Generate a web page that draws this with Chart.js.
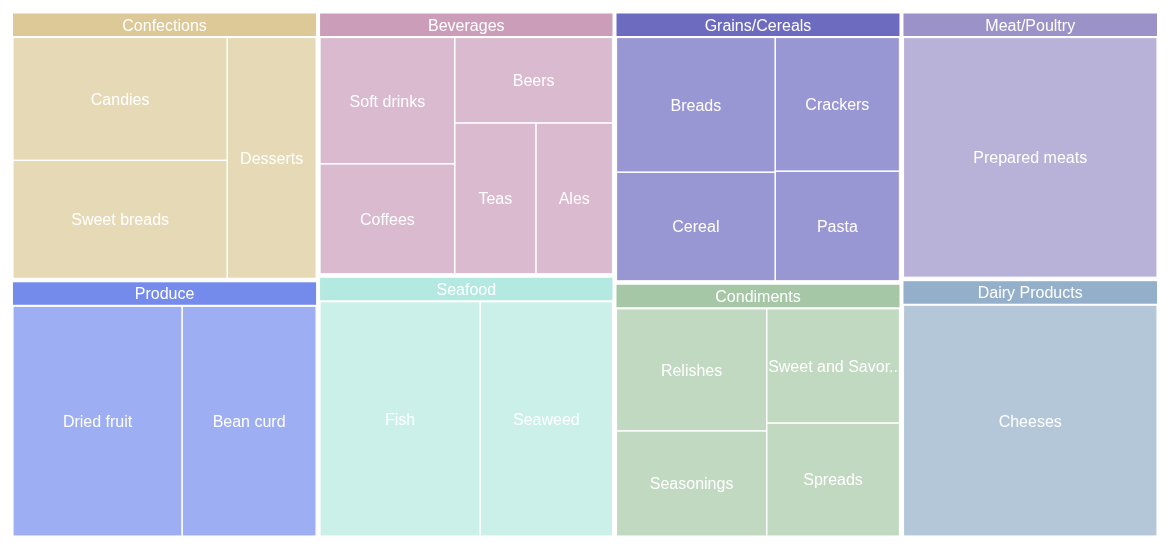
<!DOCTYPE html>
<html>
<head>
<meta charset="utf-8">
<script src="https://cdn.jsdelivr.net/npm/chart.js@4.4.1/dist/chart.umd.min.js"></script>
<style>
html,body{margin:0;padding:0;background:#ffffff;}
#wrap{width:1170px;height:550px;position:relative;}
</style>
</head>
<body>
<div id="wrap"><canvas id="chart"></canvas></div>
<script>
// ---- data ----
const categories = ['Confections','Produce','Beverages','Seafood','Grains/Cereals','Condiments','Meat/Poultry','Dairy Products'];
const headerColors = ['#dcc997','#758bec','#cb9db9','#b3e9e0','#6d6bc0','#a6c7a6','#9b92c7','#94afc9'];
const subcategories = [
  ['Candies','Sweet breads','Desserts'],
  ['Dried fruit','Bean curd'],
  ['Soft drinks','Coffees','Beers','Teas','Ales'],
  ['Fish','Seaweed'],
  ['Breads','Cereal','Crackers','Pasta'],
  ['Relishes','Seasonings','Sweet and Savory Sauces','Spreads'],
  ['Prepared meats'],
  ['Cheeses']
];
const subValues = [
  [298, 286, 242],
  [442, 350],
  [193, 168, 153, 139, 131],
  [426, 352],
  [242, 195, 188, 154],
  [209, 180, 173, 171],
  [690],
  [667]
];

// ---- squarified layout ----
function worst(row, s) {
  const sum = row.reduce((a, b) => a + b, 0);
  const mx = Math.max(...row), mn = Math.min(...row);
  return Math.max((s * s * mx) / (sum * sum), (sum * sum) / (s * s * mn));
}
function squarify(vals, x, y, w, h) {
  const total = vals.reduce((a, b) => a + b, 0);
  const k = (w * h) / total;
  const areas = vals.map(v => v * k);
  const out = [];
  let i = 0;
  while (i < areas.length) {
    const s = Math.min(w, h);
    let row = [areas[i]];
    let j = i + 1;
    while (j < areas.length) {
      const cand = row.concat(areas[j]);
      if (worst(cand, s) <= worst(row, s)) { row = cand; j++; } else break;
    }
    const sum = row.reduce((a, b) => a + b, 0);
    if (w >= h) {
      const cw = sum / h; let cy = y;
      row.forEach(a => { const ch = a / cw; out.push({x: x, y: cy, w: cw, h: ch}); cy += ch; });
      x += cw; w -= cw;
    } else {
      const rh = sum / w; let cx = x;
      row.forEach(a => { const rw = a / rh; out.push({x: cx, y: y, w: rw, h: rh}); cx += rw; });
      y += rh; h -= rh;
    }
    i = j;
  }
  return out;
}
function hexToRgba(hex, a) {
  const n = parseInt(hex.slice(1), 16);
  return 'rgba(' + ((n >> 16) & 255) + ',' + ((n >> 8) & 255) + ',' + (n & 255) + ',' + a + ')';
}
function fitText(ctx, text, maxW) {
  if (ctx.measureText(text).width <= maxW) return text;
  let base = text;
  while (base.length > 1) {
    base = base.slice(0, -1);
    const t = base.replace(/\s+$/, '') + '..';
    if (ctx.measureText(t).width <= maxW) return t;
  }
  return '';
}

const FONT = '16px "Liberation Sans", Arial, Helvetica, sans-serif';
const GAP = 2, HEADER = 22.5, HEADER_GAP = 1.5;

const treemapPlugin = {
  id: 'treemap',
  beforeDatasetsDraw(chart) {
    const ctx = chart.ctx;
    const xs = chart.scales.x, ys = chart.scales.y;
    const left = xs.getPixelForValue(0), right = xs.getPixelForValue(1);
    const top = ys.getPixelForValue(1), bottom = ys.getPixelForValue(0);
    const groupTotals = subValues.map(arr => arr.reduce((a, b) => a + b, 0));
    const groupRects = squarify(groupTotals, left, top, right - left, bottom - top);
    ctx.save();
    ctx.font = FONT;
    ctx.textAlign = 'center';
    ctx.textBaseline = 'middle';
    groupRects.forEach((r, g) => {
      const gx = r.x + GAP, gy = r.y + GAP, gw = r.w - 2 * GAP, gh = r.h - 2 * GAP;
      // header
      ctx.fillStyle = headerColors[g];
      ctx.fillRect(gx, gy, gw, HEADER);
      ctx.fillStyle = '#ffffff';
      ctx.fillText(fitText(ctx, categories[g], gw), gx + gw / 2, gy + HEADER / 2 + 1.5);
      // children
      const cy0 = gy + HEADER + HEADER_GAP;
      const ch0 = gh - HEADER - HEADER_GAP;
      const kids = squarify(subValues[g], gx, cy0, gw, ch0);
      const fill = hexToRgba(headerColors[g], 0.7);
      kids.forEach(k => {
        ctx.fillStyle = fill;
        ctx.fillRect(k.x, k.y, k.w, k.h);
      });
      ctx.strokeStyle = 'rgba(255,255,255,0.95)';
      ctx.lineWidth = 1.2;
      kids.forEach(k => {
        ctx.strokeRect(k.x, k.y, k.w, k.h);
      });
      ctx.fillStyle = '#ffffff';
      kids.forEach((k, i) => {
        const label = fitText(ctx, subcategories[g][i], k.w);
        ctx.fillText(label, k.x + k.w / 2, k.y + k.h / 2 + 1.5);
      });
    });
    ctx.restore();
  }
};

new Chart(document.getElementById('chart'), {
  type: 'scatter',
  data: { datasets: [{ label: 'treemap', data: [] }] },
  options: {
    responsive: true,
    maintainAspectRatio: false,
    animation: false,
    layout: { padding: { left: 11, right: 11, top: 11.5, bottom: 12 } },
    scales: {
      x: { type: 'linear', min: 0, max: 1, display: false },
      y: { type: 'linear', min: 0, max: 1, display: false }
    },
    plugins: {
      legend: { display: false },
      tooltip: { enabled: false }
    }
  },
  plugins: [treemapPlugin]
});
</script>
</body>
</html>
